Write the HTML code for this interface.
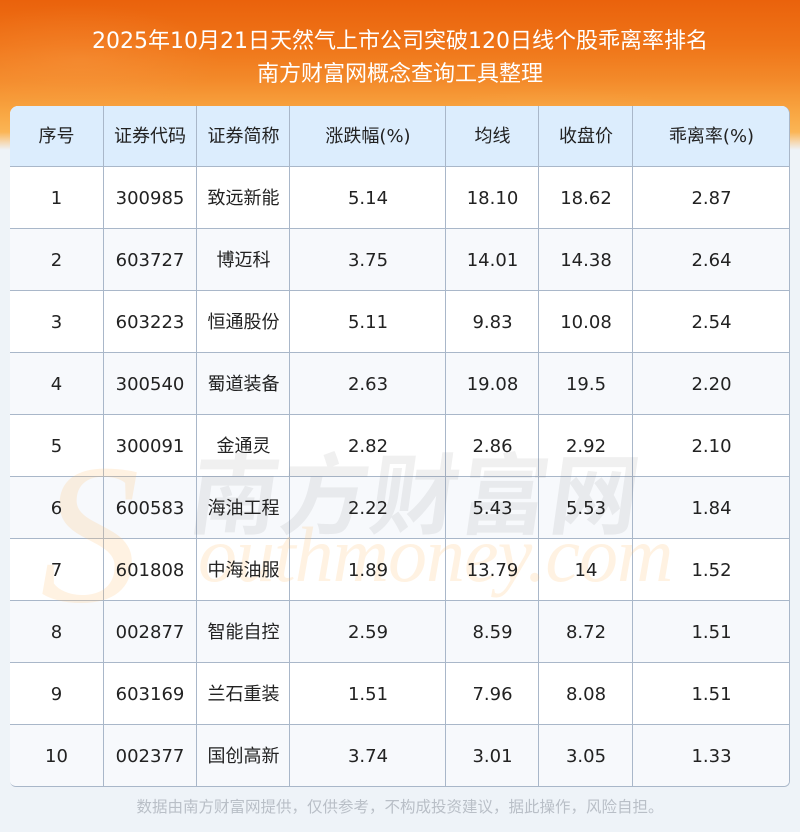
<!DOCTYPE html>
<html><head><meta charset="utf-8">
<style>
*{margin:0;padding:0;box-sizing:border-box}
html,body{width:800px;height:832px;overflow:hidden;background:#eef3f8}
body{position:relative;font-family:"DejaVu Sans","Noto Sans CJK SC",sans-serif}
.bg{position:absolute;left:0;top:0;width:800px;height:150px;
background:linear-gradient(180deg,#ea620c 0px,#ef7418 45px,#f38a2a 80px,#f8a440 110px,#fbb555 132px,#f6d8b0 142px,#eef3f8 150px)}
.bg2{position:absolute;left:0;top:0;width:800px;height:150px;
background:radial-gradient(ellipse 260px 90px at 560px 150px,rgba(255,200,120,0.25),rgba(255,200,120,0) 70%),
radial-gradient(ellipse 200px 80px at 80px 60px,rgba(255,170,90,0.25),rgba(255,170,90,0) 70%)}
.t{position:absolute;left:0;width:800px;text-align:center;color:#fff;font-size:22px;white-space:nowrap}
.tbl{position:absolute;left:10px;top:106px;width:780px;height:681px;background:#fff;border-radius:8px 8px 6px 6px;overflow:hidden;border-right:1px solid #a9b7c9;border-bottom:1px solid #a9b7c9}
.hd{position:absolute;left:0;top:0;width:780px;height:61px;background:#dcedfd}
.rw{position:absolute;left:0;width:780px;height:62px}
.alt{background:#f7f9fc}
.hl{position:absolute;left:0;width:780px;height:1px;background:#a9b7c9}
.vl{position:absolute;top:0;width:1px;height:681px;background:#a9b7c9}
.c{position:absolute;text-align:center;font-size:18px;color:#222;white-space:nowrap;line-height:20px}
.ft{position:absolute;left:0;top:795px;width:800px;text-align:center;color:#b9bfc7;font-size:15.5px;font-family:"Noto Sans CJK SC",sans-serif}
.wm{position:absolute;left:192px;top:426px;font-size:88px;color:rgba(120,120,120,0.11);font-family:"Noto Sans CJK SC",sans-serif;font-weight:bold;letter-spacing:2px;white-space:nowrap;transform:skewX(-8deg)}
.wm2{position:absolute;left:198px;top:510px;font-size:78px;color:rgba(255,190,110,0.2);font-family:"Liberation Serif",serif;font-style:italic;white-space:nowrap;letter-spacing:-1px}
.wmS{position:absolute;left:40px;top:420px;font-size:200px;color:rgba(255,190,110,0.2);font-family:"Liberation Serif",serif;font-style:italic;white-space:nowrap}
</style></head><body>
<div class="bg"></div><div class="bg2"></div>
<div class="t" style="top:23px">2025年10月21日天然气上市公司突破120日线个股乖离率排名</div>
<div class="t" style="top:56px">南方财富网概念查询工具整理</div>

<div class="tbl">
<div class="hd"></div>
<div class="rw" style="top:61px"></div>
<div class="rw alt" style="top:123px"></div>
<div class="rw" style="top:185px"></div>
<div class="rw alt" style="top:247px"></div>
<div class="rw" style="top:309px"></div>
<div class="rw alt" style="top:371px"></div>
<div class="rw" style="top:433px"></div>
<div class="rw alt" style="top:495px"></div>
<div class="rw" style="top:557px"></div>
<div class="rw alt" style="top:619px"></div>

<div class="hl" style="top:60px"></div>
<div class="hl" style="top:122px"></div>
<div class="hl" style="top:184px"></div>
<div class="hl" style="top:246px"></div>
<div class="hl" style="top:308px"></div>
<div class="hl" style="top:370px"></div>
<div class="hl" style="top:432px"></div>
<div class="hl" style="top:494px"></div>
<div class="hl" style="top:556px"></div>
<div class="hl" style="top:618px"></div>

<div class="vl" style="left:93px"></div>
<div class="vl" style="left:186px"></div>
<div class="vl" style="left:279px"></div>
<div class="vl" style="left:435px"></div>
<div class="vl" style="left:528px"></div>
<div class="vl" style="left:622px"></div>
</div>

<div class="wmS">S</div>
<div class="wm2">outhmoney.com</div>
<div class="wm">南方财富网</div>

<div class="c" style="left:10px;width:93px;top:127px">序号</div>
<div class="c" style="left:103px;width:94px;top:127px">证券代码</div>
<div class="c" style="left:197px;width:93px;top:127px">证券简称</div>
<div class="c" style="left:290px;width:156px;top:127px">涨跌幅(%)</div>
<div class="c" style="left:446px;width:93px;top:127px">均线</div>
<div class="c" style="left:539px;width:94px;top:127px">收盘价</div>
<div class="c" style="left:633px;width:157px;top:127px">乖离率(%)</div>

<div class="c" style="left:10px;width:93px;top:189px">1</div>
<div class="c" style="left:103px;width:94px;top:189px">300985</div>
<div class="c" style="left:197px;width:93px;top:189px">致远新能</div>
<div class="c" style="left:290px;width:156px;top:189px">5.14</div>
<div class="c" style="left:446px;width:93px;top:189px">18.10</div>
<div class="c" style="left:539px;width:94px;top:189px">18.62</div>
<div class="c" style="left:633px;width:157px;top:189px">2.87</div>

<div class="c" style="left:10px;width:93px;top:251px">2</div>
<div class="c" style="left:103px;width:94px;top:251px">603727</div>
<div class="c" style="left:197px;width:93px;top:251px">博迈科</div>
<div class="c" style="left:290px;width:156px;top:251px">3.75</div>
<div class="c" style="left:446px;width:93px;top:251px">14.01</div>
<div class="c" style="left:539px;width:94px;top:251px">14.38</div>
<div class="c" style="left:633px;width:157px;top:251px">2.64</div>

<div class="c" style="left:10px;width:93px;top:313px">3</div>
<div class="c" style="left:103px;width:94px;top:313px">603223</div>
<div class="c" style="left:197px;width:93px;top:313px">恒通股份</div>
<div class="c" style="left:290px;width:156px;top:313px">5.11</div>
<div class="c" style="left:446px;width:93px;top:313px">9.83</div>
<div class="c" style="left:539px;width:94px;top:313px">10.08</div>
<div class="c" style="left:633px;width:157px;top:313px">2.54</div>

<div class="c" style="left:10px;width:93px;top:375px">4</div>
<div class="c" style="left:103px;width:94px;top:375px">300540</div>
<div class="c" style="left:197px;width:93px;top:375px">蜀道装备</div>
<div class="c" style="left:290px;width:156px;top:375px">2.63</div>
<div class="c" style="left:446px;width:93px;top:375px">19.08</div>
<div class="c" style="left:539px;width:94px;top:375px">19.5</div>
<div class="c" style="left:633px;width:157px;top:375px">2.20</div>

<div class="c" style="left:10px;width:93px;top:437px">5</div>
<div class="c" style="left:103px;width:94px;top:437px">300091</div>
<div class="c" style="left:197px;width:93px;top:437px">金通灵</div>
<div class="c" style="left:290px;width:156px;top:437px">2.82</div>
<div class="c" style="left:446px;width:93px;top:437px">2.86</div>
<div class="c" style="left:539px;width:94px;top:437px">2.92</div>
<div class="c" style="left:633px;width:157px;top:437px">2.10</div>

<div class="c" style="left:10px;width:93px;top:499px">6</div>
<div class="c" style="left:103px;width:94px;top:499px">600583</div>
<div class="c" style="left:197px;width:93px;top:499px">海油工程</div>
<div class="c" style="left:290px;width:156px;top:499px">2.22</div>
<div class="c" style="left:446px;width:93px;top:499px">5.43</div>
<div class="c" style="left:539px;width:94px;top:499px">5.53</div>
<div class="c" style="left:633px;width:157px;top:499px">1.84</div>

<div class="c" style="left:10px;width:93px;top:561px">7</div>
<div class="c" style="left:103px;width:94px;top:561px">601808</div>
<div class="c" style="left:197px;width:93px;top:561px">中海油服</div>
<div class="c" style="left:290px;width:156px;top:561px">1.89</div>
<div class="c" style="left:446px;width:93px;top:561px">13.79</div>
<div class="c" style="left:539px;width:94px;top:561px">14</div>
<div class="c" style="left:633px;width:157px;top:561px">1.52</div>

<div class="c" style="left:10px;width:93px;top:623px">8</div>
<div class="c" style="left:103px;width:94px;top:623px">002877</div>
<div class="c" style="left:197px;width:93px;top:623px">智能自控</div>
<div class="c" style="left:290px;width:156px;top:623px">2.59</div>
<div class="c" style="left:446px;width:93px;top:623px">8.59</div>
<div class="c" style="left:539px;width:94px;top:623px">8.72</div>
<div class="c" style="left:633px;width:157px;top:623px">1.51</div>

<div class="c" style="left:10px;width:93px;top:685px">9</div>
<div class="c" style="left:103px;width:94px;top:685px">603169</div>
<div class="c" style="left:197px;width:93px;top:685px">兰石重装</div>
<div class="c" style="left:290px;width:156px;top:685px">1.51</div>
<div class="c" style="left:446px;width:93px;top:685px">7.96</div>
<div class="c" style="left:539px;width:94px;top:685px">8.08</div>
<div class="c" style="left:633px;width:157px;top:685px">1.51</div>

<div class="c" style="left:10px;width:93px;top:747px">10</div>
<div class="c" style="left:103px;width:94px;top:747px">002377</div>
<div class="c" style="left:197px;width:93px;top:747px">国创高新</div>
<div class="c" style="left:290px;width:156px;top:747px">3.74</div>
<div class="c" style="left:446px;width:93px;top:747px">3.01</div>
<div class="c" style="left:539px;width:94px;top:747px">3.05</div>
<div class="c" style="left:633px;width:157px;top:747px">1.33</div>

<div class="ft">数据由南方财富网提供，仅供参考，不构成投资建议，据此操作，风险自担。</div>
</body></html>
